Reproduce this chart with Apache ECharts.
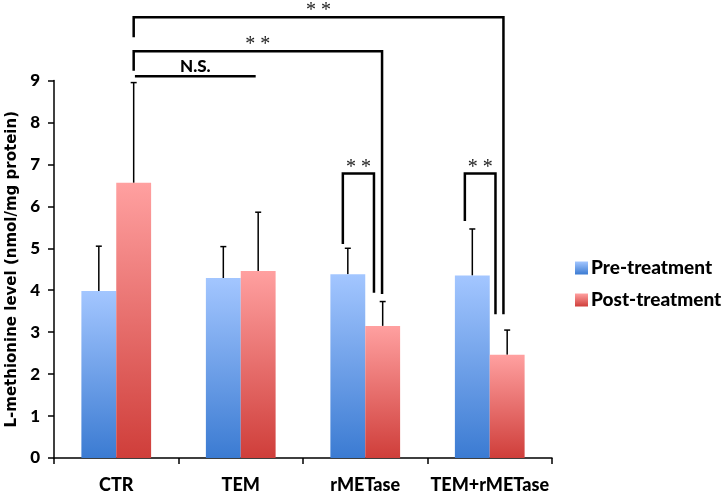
<!DOCTYPE html>
<html>
<head>
<meta charset="utf-8">
<script src="https://cdn.jsdelivr.net/npm/echarts@6/dist/echarts.min.js"></script>
<style>html,body{margin:0;background:#fff}#main{width:724px;height:493px}</style>
</head>
<body>
<div id="main"></div>
<script>
// data
var categories = ['CTR', 'TEM', 'rMETase', 'TEM+rMETase'];
var preMean = [3.98, 4.29, 4.38, 4.35];
var preUpper = [5.05, 5.04, 5.00, 5.46];
var postMean = [6.56, 4.46, 3.15, 2.46];
var postUpper = [8.95, 5.86, 3.73, 3.05];
// significance brackets: x from, x to (category units), y of bar, left end, right end, label
var brackets = [
    [0.14, 3.11, 10.51, 10.03, 3.43, '**'],
    [0.14, 2.135, 9.70, 9.23, 3.91, '**'],
    [0.15, 1.12, 9.10, null, null, 'N.S.'],
    [1.82, 2.07, 6.78, 5.10, 3.94, '**'],
    [2.80, 3.046, 6.78, 5.65, 3.43, '**']
];

var FONT = 'Lato';
var chart = echarts.init(document.getElementById('main'));

function grad(top, bottom) {
    return new echarts.graphic.LinearGradient(0, 0, 0, 1, [
        { offset: 0, color: top },
        { offset: 1, color: bottom }
    ]);
}

function errRender(side) {
    return function (params, api) {
        var band = api.size([1, 0])[0];
        var lo = api.coord([api.value(0), api.value(1)]);
        var hi = api.coord([api.value(0), api.value(2)]);
        var x = lo[0] + side * band * 0.14;
        var st = { stroke: '#000', lineWidth: 1.5 };
        return {
            type: 'group',
            children: [
                { type: 'line', shape: { x1: x, y1: lo[1], x2: x, y2: hi[1] }, style: st },
                { type: 'line', shape: { x1: x - 3, y1: hi[1], x2: x + 3, y2: hi[1] }, style: st }
            ]
        };
    };
}

function bracketRender(params, api) {
    var b = brackets[params.dataIndex];
    var band = api.size([1, 0])[0];
    function pt(x, y) {
        var base = Math.round(x);
        var c = api.coord([base, y]);
        return [c[0] + (x - base) * band, c[1]];
    }
    var a = pt(b[0], b[2]), c = pt(b[1], b[2]);
    var pts = [a, c];
    if (b[3] != null) {
        pts = [pt(b[0], b[3]), a, c, pt(b[1], b[4])];
    }
    var ns = b[5] === 'N.S.';
    return {
        type: 'group',
        children: [
            { type: 'polyline', shape: { points: pts }, style: { stroke: '#000', lineWidth: 2.5, fill: null } },
            {
                type: 'text',
                style: {
                    text: ns ? b[5] : '* *',
                    x: (a[0] + c[0]) / 2,
                    y: ns ? a[1] - 10 : a[1] + 4,
                    align: 'center',
                    verticalAlign: ns ? 'middle' : 'bottom',
                    fill: ns ? '#000' : '#222',
                    font: ns ? '900 17px "' + FONT + '"' : '20px "Liberation Serif"'
                }
            }
        ]
    };
}

chart.setOption({
    animation: false,
    textStyle: { fontFamily: FONT },
    grid: { left: 54, right: 172, top: 80.5, bottom: 35, outerBoundsMode: 'none' },
    legend: {
        orient: 'vertical',
        left: 575,
        top: 258,
        padding: 0,
        itemWidth: 13,
        itemHeight: 13,
        itemGap: 12,
        itemStyle: { borderWidth: 0 },
        icon: 'rect',
        data: ['Pre-treatment', 'Post-treatment'],
        textStyle: { fontSize: 19, lineHeight: 20, fontWeight: 900, color: '#000', fontFamily: FONT, padding: [0, 0, 0, -2] }
    },
    xAxis: {
        type: 'category',
        data: categories,
        axisLine: { lineStyle: { color: '#000', width: 1.5 } },
        axisTick: { show: true, length: 6, lineStyle: { color: '#000', width: 1.5 } },
        axisLabel: { interval: 0, fontSize: 18, fontWeight: 900, color: '#000', margin: 18 }
    },
    yAxis: {
        type: 'value',
        min: 0,
        max: 9,
        interval: 1,
        name: 'L-methionine level (nmol/mg protein)',
        nameLocation: 'middle',
        nameGap: 34,
        nameTextStyle: { fontSize: 15, fontWeight: 'bold', color: '#000', fontFamily: 'DejaVu Sans' },
        axisLine: { show: true, lineStyle: { color: '#000', width: 1.5 } },
        axisTick: { show: true, length: 6, lineStyle: { color: '#000', width: 1.5 } },
        axisLabel: { fontSize: 17, fontWeight: 900, color: '#000', margin: 14 },
        splitLine: { show: false }
    },
    series: [
        {
            name: 'Pre-treatment',
            type: 'bar',
            barWidth: '28%',
            barGap: '0%',
            data: preMean,
            itemStyle: { color: grad('#a3c6ff', '#3b7bd2') }
        },
        {
            name: 'Post-treatment',
            type: 'bar',
            barWidth: '28%',
            data: postMean,
            itemStyle: { color: grad('#ffa0a0', '#cf3e3a') }
        },
        {
            type: 'custom',
            renderItem: errRender(-1),
            data: categories.map(function (c, i) { return [i, preMean[i], preUpper[i]]; }),
            z: 1
        },
        {
            type: 'custom',
            renderItem: errRender(1),
            data: categories.map(function (c, i) { return [i, postMean[i], postUpper[i]]; }),
            z: 1
        },
        {
            type: 'custom',
            renderItem: bracketRender,
            data: brackets.map(function (b) { return [Math.round(b[0]), 0]; }),
            z: 5
        }
    ]
});
</script>
</body>
</html>
